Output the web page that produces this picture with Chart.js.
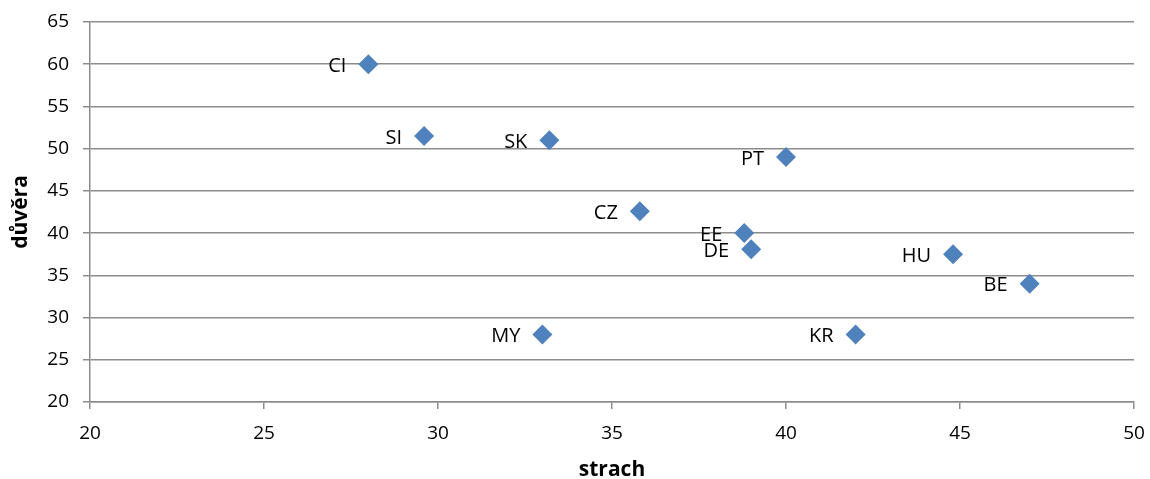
<!DOCTYPE html>
<html>
<head>
<meta charset="utf-8">
<script src="https://cdn.jsdelivr.net/npm/chart.js@4/dist/chart.umd.min.js"></script>
<style>
  html, body { margin: 0; padding: 0; background: #fff; }
  #wrap { width: 1150px; height: 479px; }
</style>
</head>
<body>
<div id="wrap"><canvas id="c" width="1150" height="479"></canvas></div>
<script>
// Country codes and their scores
const countries = ['CI', 'SI', 'SK', 'PT', 'CZ', 'EE', 'DE', 'HU', 'BE', 'MY', 'KR'];
const strach = [28.0, 29.6, 33.2, 40.0, 35.8, 38.8, 39.0, 44.8, 47.0, 33.0, 42.0];
const duvera = [60.0, 51.5, 51.0, 49.0, 42.6, 40.0, 38.1, 37.5, 34.0, 28.0, 28.0];

const FONT = '"Open Sans", "Liberation Sans", sans-serif';
const GRID = '#8c8c8c';

const points = strach.map((x, i) => ({ x: x, y: duvera[i], label: countries[i] }));

// Draws each country code to the left of its marker
const pointLabels = {
  id: 'pointLabels',
  afterDatasetsDraw(chart) {
    const ctx = chart.ctx;
    const meta = chart.getDatasetMeta(0);
    ctx.save();
    ctx.font = '20px ' + FONT;
    ctx.fillStyle = '#000';
    ctx.textAlign = 'right';
    ctx.textBaseline = 'middle';
    meta.data.forEach((el, i) => {
      ctx.fillText(countries[i], el.x - 22, el.y + 2);
    });
    ctx.restore();
  }
};

function draw() {
  new Chart(document.getElementById('c'), {
    type: 'scatter',
    data: {
      datasets: [{
        data: points,
        pointStyle: 'rectRot',
        pointRadius: 10,
        pointHoverRadius: 10,
        backgroundColor: '#4f81bd',
        borderColor: '#4f81bd',
        borderWidth: 0
      }]
    },
    options: {
      responsive: false,
      animation: false,
      events: [],
      layout: { padding: { top: 22, right: 16, left: 0, bottom: 0 } },
      plugins: { legend: { display: false }, tooltip: { enabled: false } },
      scales: {
        x: {
          type: 'linear',
          min: 20, max: 50,
          afterFit(scale) { scale.height = 77; scale.paddingLeft = 0; scale.paddingRight = 0; },
          ticks: { stepSize: 5, color: '#000', font: { family: FONT, size: 19 }, padding: 13 },
          grid: { drawOnChartArea: false, drawTicks: true, tickLength: 7, color: GRID, lineWidth: 1.5 },
          border: { display: true, color: GRID, width: 1.5 },
          title: { display: true, text: 'strach', color: '#000', font: { family: FONT, size: 21, weight: 'bold' }, padding: { top: 0, bottom: -4 } }
        },
        y: {
          type: 'linear',
          min: 20, max: 65,
          afterFit(scale) { scale.width = 90; scale.paddingTop = 0; scale.paddingBottom = 0; },
          ticks: { stepSize: 5, color: '#000', font: { family: FONT, size: 19 }, padding: 14 },
          grid: { drawTicks: true, tickLength: 7, color: GRID, lineWidth: 1.5 },
          border: { display: true, color: GRID, width: 1.5 },
          title: { display: true, text: 'důvěra', color: '#000', font: { family: FONT, size: 21, weight: 'bold' }, padding: { top: 8, bottom: 0 } }
        }
      }
    },
    plugins: [pointLabels]
  });
}

Promise.all([
  document.fonts.load('19px "Open Sans"'),
  document.fonts.load('bold 21px "Open Sans"')
]).then(draw, draw);
</script>
</body>
</html>
